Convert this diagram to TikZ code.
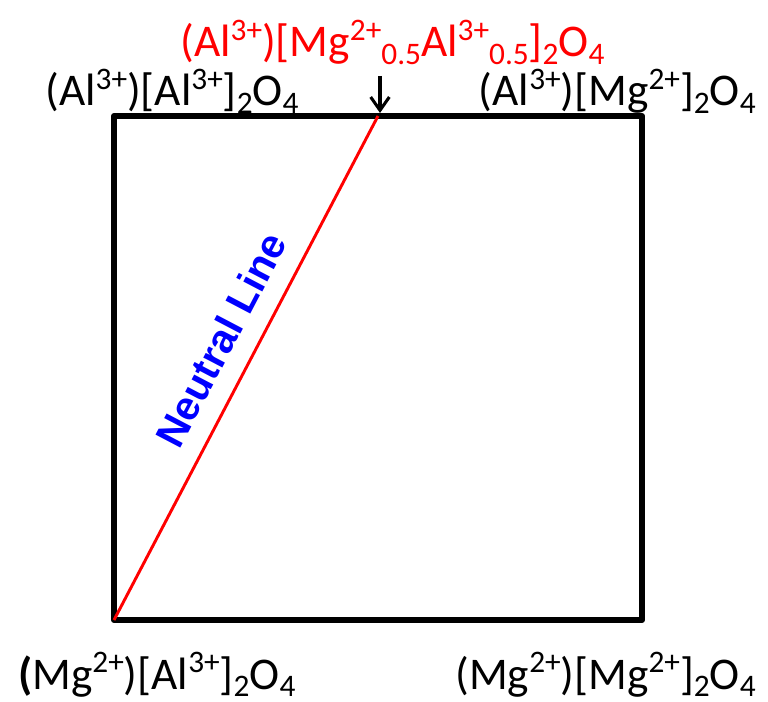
\documentclass[tikz,border=0pt]{standalone}
\usepackage{fontspec}
\setmainfont{Carlito}
\newfontfamily\arialbold[BoldFont={Liberation Sans Bold}]{Liberation Sans}
\usetikzlibrary{arrows.meta}
\newcommand{\spr}[1]{\raisebox{0.36em}{\fontsize{23.5}{23.5}\selectfont #1}}
\newcommand{\sbs}[1]{\raisebox{-0.16em}{\fontsize{23.5}{23.5}\selectfont #1}}
\tikzset{
  frame/.style={line width=4.5pt, line join=round, line cap=round},
  formula/.style={font=\fontsize{34}{39}\selectfont, inner sep=0pt},
  neutral/.style={red, line width=2.2pt},
  pointer/.style={black, line width=2.3pt, -{Straight Barb[length=10pt,width=14pt,line width=2.3pt]}},
  nlabel/.style={text=blue, font=\fontsize{30.5}{35}\selectfont\arialbold\bfseries, inner sep=0pt}
}
\begin{document}
\begin{tikzpicture}[x=0.75pt,y=-0.75pt]
\useasboundingbox (0,0) rectangle (768,702);
\coordinate (BL) at (114,620);
\coordinate (BR) at (642,620);
\coordinate (TR) at (642,116);
\coordinate (TL) at (114,116);
\coordinate (M) at (378,116);
\coordinate (Mtop) at (380,76);
\coordinate (Mtip) at (380,113);
\draw[frame] (TL) -- (TR) -- (BR) -- (BL) -- cycle;
\draw[neutral] (BL) -- (M);
\draw[pointer] (Mtop) -- (Mtip);
\node[nlabel, rotate=62.35] (nl) at (221,340) {Neutral Line};
\node[formula, anchor=base west] (tl) at (45,106) {(Al\spr{3+})[Al\spr{3+}]\sbs{2}O\sbs{4}};
\node[formula, anchor=base east] (tr) at (756,106) {(Al\spr{3+})[Mg\spr{2+}]\sbs{2}O\sbs{4}};
\node[formula, anchor=base west, text=red] (top) at (180,57) {(Al\spr{3+})[Mg\spr{2+}\sbs{0.5}Al\spr{3+}\sbs{0.5}]\sbs{2}O\sbs{4}};
\node[formula, anchor=base west] (bl) at (18,689) {\textbf{(}Mg\spr{2+})[Al\spr{3+}]\sbs{2}O\sbs{4}};
\node[formula, anchor=base east] (br) at (756,689) {(Mg\spr{2+})[Mg\spr{2+}]\sbs{2}O\sbs{4}};
\end{tikzpicture}
\end{document}
